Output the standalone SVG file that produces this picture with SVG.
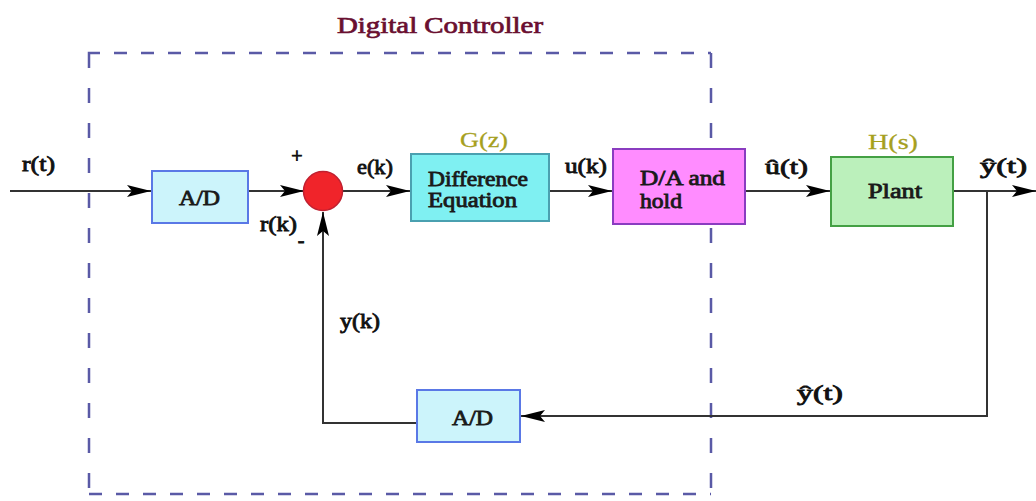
<svg xmlns="http://www.w3.org/2000/svg" width="1036" height="501" viewBox="0 0 1036 501">
<style>
  text { font-family: "Liberation Serif", "Times New Roman", serif; font-weight: normal; }
  .lbl { font-size: 20px; fill: #111; stroke: #111; stroke-width: 0.8; }
  .box-lbl { font-size: 20px; fill: #1a1a1a; stroke: #1a1a1a; stroke-width: 0.8; }
  .tf { font-size: 22px; fill: #a6a01e; stroke: #a6a01e; stroke-width: 0.3; }
  .title { font-size: 23px; fill: #6a0f30; stroke: #6a0f30; stroke-width: 0.7; }
  .wire { stroke: #333; stroke-width: 2; fill: none; }
  .dash { stroke: #5a5aa6; stroke-width: 2.5; fill: none; }
  .dv { stroke-dasharray: 15 20; }
  .dh { stroke-dasharray: 13 14; }
  .ad { fill: #ccf4fb; stroke: #5a78e6; stroke-width: 2; }
  .de { fill: #7ff0f2; stroke: #4aa0b0; stroke-width: 2; }
  .da { fill: #ff8cff; stroke: #8a3cc0; stroke-width: 2; }
  .pl { fill: #bbf0bb; stroke: #44a044; stroke-width: 2; }
</style>
<defs>
  <marker id="arr" markerUnits="userSpaceOnUse" markerWidth="26" markerHeight="14" refX="24" refY="7" orient="auto">
    <path d="M0,1 L24,7 L0,13 L5,7 z" fill="#000"/>
  </marker>
</defs>
<rect width="1036" height="501" fill="#fff"/>

<g id="controller-boundary">
  <text class="title" x="337" y="33" textLength="206" lengthAdjust="spacingAndGlyphs">Digital Controller</text>
  <path class="dash" d="M89,68 L89,53 L100,53"/>
  <path class="dash dh" d="M114,53 L711,53"/>
  <path class="dash dv" d="M89,88 L89,494"/>
  <path class="dash dv" d="M711,53 L711,494"/>
  <path class="dash dh" d="M89,494 L711,494"/>
</g>

<g id="connectors">
  <line class="wire" x1="10" y1="191" x2="151" y2="191" marker-end="url(#arr)"/>
  <line class="wire" x1="248" y1="191" x2="304" y2="191" marker-end="url(#arr)"/>
  <line class="wire" x1="343" y1="191" x2="410" y2="191" marker-end="url(#arr)"/>
  <line class="wire" x1="549" y1="191" x2="612" y2="191" marker-end="url(#arr)"/>
  <line class="wire" x1="745" y1="191" x2="830" y2="191" marker-end="url(#arr)"/>
  <line class="wire" x1="953" y1="191" x2="1036" y2="191" marker-end="url(#arr)"/>
  <polyline class="wire" points="987,191 987,416 521,416" marker-end="url(#arr)"/>
  <polyline class="wire" points="417,423 323,423 323,212" marker-end="url(#arr)"/>
</g>

<g id="ad-in">
  <rect class="ad" x="152" y="171" width="96" height="52"/>
  <text class="box-lbl" x="179" y="205" textLength="41" lengthAdjust="spacingAndGlyphs">A/D</text>
</g>

<g id="sum">
  <circle cx="323" cy="191" r="19.5" fill="#f0242a" stroke="#c02030" stroke-width="1.5"/>
  <text class="lbl" x="297" y="163" text-anchor="middle">+</text>
  <text class="lbl" x="301" y="247" text-anchor="middle">-</text>
</g>

<g id="difference-equation">
  <text class="tf" x="460" y="147" textLength="48" lengthAdjust="spacingAndGlyphs">G(z)</text>
  <rect class="de" x="411" y="154" width="138" height="67"/>
  <text class="box-lbl" x="428" y="186" textLength="100" lengthAdjust="spacingAndGlyphs">Difference</text>
  <text class="box-lbl" x="428" y="207" textLength="89" lengthAdjust="spacingAndGlyphs">Equation</text>
</g>

<g id="da-hold">
  <rect class="da" x="613" y="149" width="132" height="75"/>
  <text class="box-lbl" x="640" y="185" textLength="85" lengthAdjust="spacingAndGlyphs">D/A  and</text>
  <text class="box-lbl" x="640" y="208" textLength="42" lengthAdjust="spacingAndGlyphs">hold</text>
</g>

<g id="plant">
  <text class="tf" x="868" y="149" textLength="50" lengthAdjust="spacingAndGlyphs">H(s)</text>
  <rect class="pl" x="831" y="157" width="122" height="69"/>
  <text class="box-lbl" x="868" y="198" textLength="54" lengthAdjust="spacingAndGlyphs">Plant</text>
</g>

<g id="ad-fb">
  <rect class="ad" x="417" y="390" width="103" height="52"/>
  <text class="box-lbl" x="452" y="425" textLength="41" lengthAdjust="spacingAndGlyphs">A/D</text>
</g>

<g id="labels">
  <text class="lbl" x="22" y="171" textLength="33" lengthAdjust="spacingAndGlyphs">r(t)</text>
  <text class="lbl" x="260" y="231" textLength="37" lengthAdjust="spacingAndGlyphs">r(k)</text>
  <text class="lbl" x="357" y="174" textLength="36" lengthAdjust="spacingAndGlyphs">e(k)</text>
  <text class="lbl" x="565" y="173" textLength="42" lengthAdjust="spacingAndGlyphs">u(k)</text>
  <text class="lbl" x="765" y="174" textLength="43" lengthAdjust="spacingAndGlyphs">û(t)</text>
  <text class="lbl" x="980" y="173" textLength="47" lengthAdjust="spacingAndGlyphs">ŷ(t)</text>
  <text class="lbl" x="340" y="328" textLength="40" lengthAdjust="spacingAndGlyphs">y(k)</text>
  <text class="lbl" x="797" y="400" textLength="46" lengthAdjust="spacingAndGlyphs">ŷ(t)</text>
</g>
</svg>
